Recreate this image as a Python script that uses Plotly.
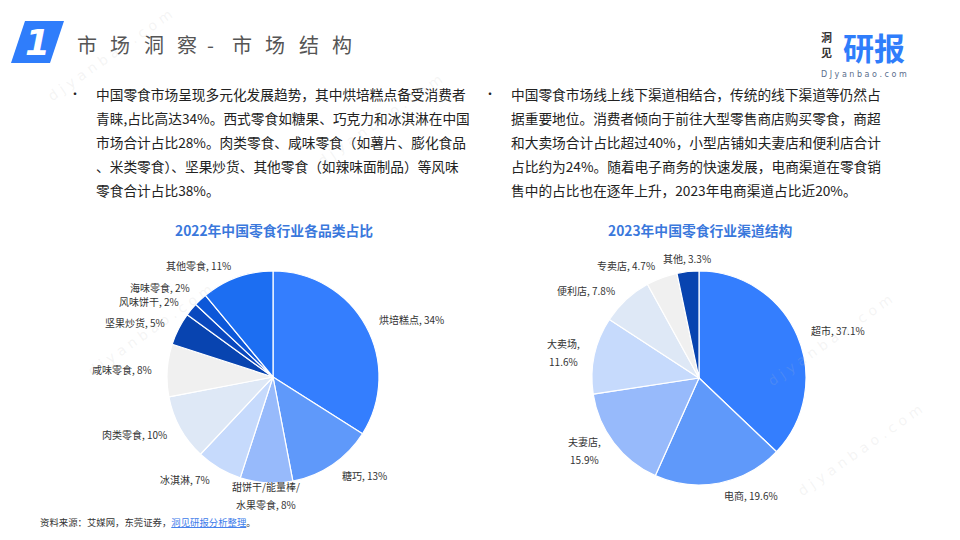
import math
import plotly.graph_objects as go

W, H = 960, 540

# ---------------- data ----------------
cat_labels = ["烘培糕点", "糖巧", "甜饼干/能量棒/水果零食", "冰淇淋", "肉类零食",
              "咸味零食", "坚果炒货", "风味饼干", "海味零食", "其他零食"]
cat_values = [34, 13, 8, 7, 10, 8, 5, 2, 2, 11]
cat_colors = ["#347EFE", "#5F99FA", "#97BAFB", "#C6DAFC", "#DEE8F6",
              "#F0F0F0", "#0844B0", "#0A48BE", "#0C57D8", "#1C6EF2"]

ch_labels = ["超市", "电商", "夫妻店", "大卖场", "便利店", "专卖店", "其他"]
ch_values = [37.1, 19.6, 15.9, 11.6, 7.8, 4.7, 3.3]
ch_colors = ["#347EFE", "#5F99FA", "#97BAFB", "#C6DAFC", "#DEE8F6", "#F0F0F0", "#0844B0"]

title_left = "2022年中国零食行业各品类占比"
title_right = "2023年中国零食行业渠道结构"

left_lines = [
    "中国零食市场呈现多元化发展趋势，其中烘培糕点备受消费者",
    "青睐,占比高达34%。西式零食如糖果、巧克力和冰淇淋在中国",
    "市场合计占比28%。肉类零食、咸味零食（如薯片、膨化食品",
    "、米类零食）、坚果炒货、其他零食（如辣味面制品）等风味",
    "零食合计占比38%。",
]
right_lines = [
    "中国零食市场线上线下渠道相结合，传统的线下渠道等仍然占",
    "据重要地位。消费者倾向于前往大型零售商店购买零食，商超",
    "和大卖场合计占比超过40%，小型店铺如夫妻店和便利店合计",
    "占比约为24%。随着电子商务的快速发展，电商渠道在零食销",
    "售中的占比也在逐年上升，2023年电商渠道占比近20%。",
]

FONT = "Noto Sans CJK SC"


def px(x):
    return x / W


def py(y):
    return 1 - y / H


def label_lines(lbl, v, wrap=False):
    vs = f"{v:g}%"
    if lbl == "甜饼干/能量棒/水果零食":
        return ["甜饼干/能量棒/", f"水果零食, {vs}"]
    if wrap:
        return [f"{lbl},", vs]
    return [f"{lbl}, {vs}"]


fig = go.Figure()
ann = []
shapes = []


def add_pie(labels, values, colors, cx, cy, r, wrap_set):
    fig.add_trace(go.Pie(
        labels=labels, values=values, textinfo="none",
        sort=False, direction="clockwise", rotation=0,
        marker=dict(colors=colors, line=dict(color="white", width=1.2)),
        domain=dict(x=[px(cx - r), px(cx + r)], y=[py(cy + r), py(cy - r)]),
        showlegend=False, hoverinfo="label+percent",
    ))
    total = sum(values)
    cum = 0.0
    gap = 13
    items = []
    for lbl, v in zip(labels, values):
        mid = (cum + v / 2) / total
        cum += v
        th = 2 * math.pi * mid
        s, c = math.sin(th), math.cos(th)
        lx = cx + (r + gap) * s
        ly = cy - (r + gap) * c
        xa = "left" if s > 0.15 else ("right" if s < -0.15 else "center")
        items.append(dict(lbl=lbl, v=v, x=lx, y=ly, xa=xa))
    # simple vertical overlap resolution on the left side (push upward)
    left = sorted([it for it in items if it["xa"] == "right"], key=lambda it: -it["y"])
    for a, b in zip(left, left[1:]):
        if a["y"] - b["y"] < 14:
            b["y"] = a["y"] - 14
    for it in items:
        lines = label_lines(it["lbl"], it["v"], wrap=it["lbl"] in wrap_set)
        if len(lines) == 1:
            txt, fs = lines[0], 10
        else:
            txt = "<br>".join(f'<span style="font-size:10px">{ln}</span>' for ln in lines)
            fs = 13.8
        ann.append(dict(x=px(it["x"]), y=py(it["y"]), text=txt, showarrow=False, align="center",
                        font=dict(family=FONT, size=fs, color="#333333"),
                        xanchor=it["xa"], yanchor="middle"))


add_pie(cat_labels, cat_values, cat_colors, 273, 377, 106, set())
add_pie(ch_labels, ch_values, ch_colors, 699, 378, 107, {"夫妻店", "大卖场"})

# header badge
shapes.append(dict(
    type="path", xref="paper", yref="paper",
    path=f"M {px(25)} {py(21)} L {px(64)} {py(21)} L {px(50)} {py(63)} L {px(11)} {py(63)} Z",
    fillcolor="#2F7DFB", line=dict(width=0),
))
ann.append(dict(x=px(37), y=py(43), text="<b><i>1</i></b>", showarrow=False,
                font=dict(family="DejaVu Sans", size=36, color="white"),
                xanchor="center", yanchor="middle"))

# header title, letter-spaced
title_chars = ["市", "场", "洞", "察", "-", "市", "场", "结", "构"]
title_x = [75, 108, 142, 175, 205, 230, 263, 297, 330]
for ch, x in zip(title_chars, title_x):
    ann.append(dict(x=px(x), y=py(44), text=ch, showarrow=False,
                    font=dict(family=FONT, size=20, color="#555555"),
                    xanchor="left", yanchor="middle"))

# logo
ann.append(dict(x=px(826), y=py(37.5), text="<b>洞</b>", showarrow=False,
                font=dict(family=FONT, size=11, color="#333333"),
                xanchor="center", yanchor="middle", borderpad=0))
ann.append(dict(x=px(826), y=py(52.5), text="<b>见</b>", showarrow=False,
                font=dict(family=FONT, size=11, color="#333333"),
                xanchor="center", yanchor="middle", borderpad=0))
ann.append(dict(x=px(874), y=py(47), text="<b>研报</b>", showarrow=False,
                font=dict(family=FONT, size=31, color="#2F7DFB"), xanchor="center", yanchor="middle",
                borderpad=0))
ann.append(dict(x=px(864), y=py(74), text="D J y a n b a o . c o m", showarrow=False,
                font=dict(family="DejaVu Sans", size=8, color="#5A6E8C"), xanchor="center", yanchor="middle"))

# bullets and body text
line_y = [94, 118, 142, 166, 190]
ann.append(dict(x=px(75), y=py(94), text="•", showarrow=False,
                font=dict(family=FONT, size=12, color="#222222"), xanchor="center", yanchor="middle"))
ann.append(dict(x=px(490), y=py(94), text="•", showarrow=False,
                font=dict(family=FONT, size=12, color="#222222"), xanchor="center", yanchor="middle"))
for t, y in zip(left_lines, line_y):
    ann.append(dict(x=px(94), y=py(y), text=t, showarrow=False,
                    font=dict(family=FONT, size=13.7, color="#222222"), xanchor="left", yanchor="middle"))
for t, y in zip(right_lines, line_y):
    ann.append(dict(x=px(509), y=py(y), text=t, showarrow=False,
                    font=dict(family=FONT, size=13.7, color="#222222"), xanchor="left", yanchor="middle"))

# chart titles
ann.append(dict(x=px(274), y=py(230), text=f"<b>{title_left}</b>", showarrow=False,
                font=dict(family=FONT, size=13.8, color="#3A78DC"), xanchor="center", yanchor="middle"))
ann.append(dict(x=px(700), y=py(230), text=f"<b>{title_right}</b>", showarrow=False,
                font=dict(family=FONT, size=13.8, color="#3A78DC"), xanchor="center", yanchor="middle"))

# source
ann.append(dict(
    x=px(38), y=py(522),
    text='资料来源：艾媒网，东莞证券，<span style="color:#3C7BEA;text-decoration:underline">洞见研报分析整理</span>。',
    showarrow=False, font=dict(family=FONT, size=9.4, color="#333333"), xanchor="left", yanchor="middle"))

# faint watermarks
for (x, y) in [(110, 55), (380, 120), (150, 330), (830, 340), (860, 450)]:
    ann.append(dict(x=px(x), y=py(y), text="d j y a n b a o . c o m", showarrow=False, textangle=-35,
                    font=dict(family="DejaVu Sans", size=14, color="rgba(190,190,190,0.16)"),
                    xanchor="center", yanchor="middle"))

fig.update_layout(
    width=W, height=H, margin=dict(l=0, r=0, t=0, b=0),
    paper_bgcolor="white", plot_bgcolor="white",
    annotations=ann, shapes=shapes,
    font=dict(family=FONT),
)

fig.write_html("out.html")
